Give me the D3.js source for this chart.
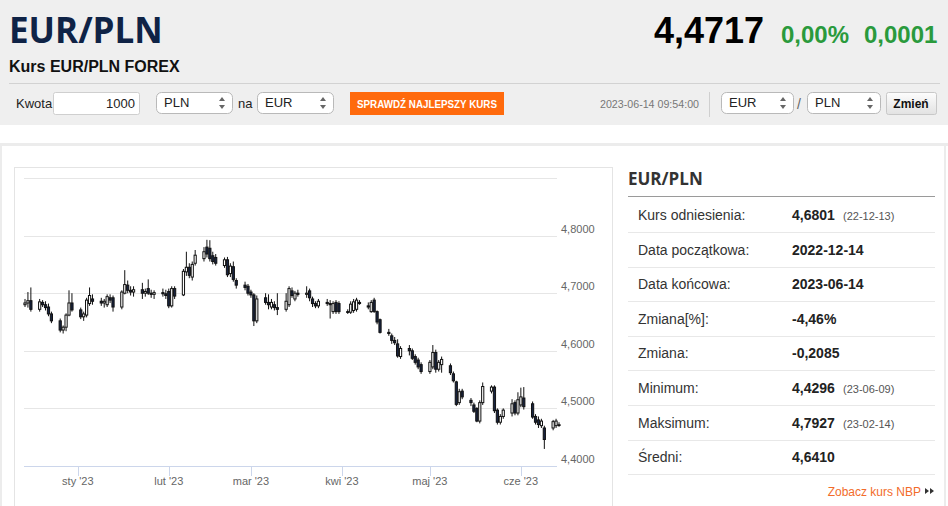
<!DOCTYPE html>
<html>
<head>
<meta charset="utf-8">
<script src="https://cdn.jsdelivr.net/npm/d3@7"></script>
<style>
body { margin: 0; background: #fff; font-family: Arial, "Liberation Sans", sans-serif; }
svg { display: block; }
</style>
</head>
<body>
<svg id="strona" width="948" height="506"></svg>
<script>
// EUR/PLN daily candles, 2022-12-14 .. 2023-06-14 (one value per weekday)
const startDate = new Date(2022, 11, 14);
const endDate = new Date(2023, 5, 14);

const open = [
	4.680, 4.683, 4.687,
	4.672, 4.684, 4.680, 4.676, 4.664,
	4.652, 4.636, 4.641, 4.662, 4.683,
	4.671, 4.659, 4.662, 4.682, 4.690,
	4.686, 4.683, 4.680, 4.692, 4.692,
	4.676, 4.700, 4.714, 4.705, 4.702,
	4.706, 4.700, 4.708, 4.700, 4.698,
	4.701, 4.699, 4.703, 4.678, 4.708,
	4.697, 4.737, 4.745, 4.728, 4.752,
	4.760, 4.780, 4.778, 4.765, 4.762,
	4.748, 4.758, 4.734, 4.746, 4.722,
	4.714, 4.712, 4.702, 4.697, 4.652,
	4.692, 4.684, 4.676, 4.680, 4.675,
	4.672, 4.680, 4.704, 4.690, 4.700,
	4.698, 4.704, 4.690, 4.682, 4.678,
	4.684, 4.682, 4.668, 4.684, 4.682,
	4.668, 4.667, 4.670, 4.672, 4.684,
	4.678, 4.668, 4.688, 4.668, 4.654,
	4.632, 4.626, 4.618, 4.612, 4.590,
	4.604, 4.600, 4.590, 4.584, 4.576,
	4.564, 4.572, 4.597, 4.568, 4.576,
	4.574, 4.560, 4.546, 4.510, 4.530,
	4.514, 4.506, 4.500, 4.478, 4.510,
	4.530, 4.537, 4.497, 4.476, 4.486,
	4.492, 4.510, 4.492, 4.506, 4.518,
	4.508, 4.486, 4.480, 4.470, 4.466,
	4.466, 4.470, 4.4716
];
const high = [
	4.690, 4.702, 4.710,
	4.690, 4.688, 4.686, 4.682, 4.668,
	4.656, 4.644, 4.665, 4.705, 4.700,
	4.675, 4.668, 4.692, 4.710, 4.698,
	4.692, 4.690, 4.698, 4.698, 4.696,
	4.705, 4.740, 4.722, 4.712, 4.712,
	4.718, 4.708, 4.724, 4.706, 4.705,
	4.708, 4.706, 4.708, 4.712, 4.712,
	4.742, 4.772, 4.752, 4.755, 4.775,
	4.780, 4.7927, 4.792, 4.772, 4.768,
	4.762, 4.763, 4.752, 4.755, 4.726,
	4.720, 4.716, 4.706, 4.700, 4.696,
	4.700, 4.698, 4.690, 4.686, 4.700,
	4.700, 4.712, 4.710, 4.704, 4.706,
	4.712, 4.708, 4.694, 4.686, 4.690,
	4.690, 4.688, 4.686, 4.688, 4.686,
	4.672, 4.686, 4.690, 4.692, 4.688,
	4.684, 4.688, 4.692, 4.670, 4.656,
	4.638, 4.630, 4.624, 4.620, 4.608,
	4.610, 4.604, 4.594, 4.588, 4.580,
	4.584, 4.610, 4.602, 4.584, 4.590,
	4.578, 4.564, 4.548, 4.534, 4.534,
	4.518, 4.510, 4.502, 4.514, 4.545,
	4.540, 4.540, 4.500, 4.490, 4.500,
	4.516, 4.514, 4.528, 4.536, 4.537,
	4.512, 4.490, 4.486, 4.482, 4.470,
	4.480, 4.482, 4.476
];
const low = [
	4.676, 4.675, 4.668,
	4.668, 4.676, 4.670, 4.660, 4.648,
	4.632, 4.630, 4.634, 4.660, 4.668,
	4.655, 4.652, 4.658, 4.678, 4.680,
	4.678, 4.675, 4.676, 4.683, 4.668,
	4.672, 4.698, 4.700, 4.696, 4.694,
	4.690, 4.694, 4.697, 4.692, 4.690,
	4.694, 4.690, 4.674, 4.675, 4.690,
	4.695, 4.730, 4.726, 4.722, 4.748,
	4.755, 4.762, 4.755, 4.750, 4.748,
	4.744, 4.728, 4.728, 4.720, 4.708,
	4.705, 4.696, 4.692, 4.643, 4.648,
	4.680, 4.672, 4.672, 4.670, 4.662,
	4.668, 4.676, 4.692, 4.686, 4.694,
	4.692, 4.686, 4.676, 4.674, 4.674,
	4.678, 4.656, 4.664, 4.664, 4.664,
	4.664, 4.664, 4.666, 4.668, 4.680,
	4.672, 4.666, 4.666, 4.646, 4.630,
	4.626, 4.612, 4.610, 4.588, 4.586,
	4.592, 4.584, 4.576, 4.568, 4.560,
	4.560, 4.568, 4.562, 4.564, 4.562,
	4.558, 4.545, 4.504, 4.506, 4.516,
	4.504, 4.492, 4.476, 4.474, 4.506,
	4.526, 4.492, 4.472, 4.472, 4.482,
	4.486, 4.488, 4.488, 4.502, 4.498,
	4.482, 4.472, 4.466, 4.466, 4.4296,
	4.462, 4.466, 4.468
];
const close = [
	4.683, 4.687, 4.672,
	4.685, 4.680, 4.675, 4.664, 4.652,
	4.636, 4.641, 4.662, 4.683, 4.671,
	4.659, 4.664, 4.688, 4.696, 4.686,
	4.683, 4.686, 4.694, 4.688, 4.676,
	4.702, 4.715, 4.705, 4.702, 4.706,
	4.700, 4.703, 4.700, 4.698, 4.701,
	4.699, 4.696, 4.678, 4.708, 4.695,
	4.738, 4.745, 4.731, 4.750, 4.766,
	4.772, 4.768, 4.760, 4.755, 4.752,
	4.758, 4.732, 4.747, 4.724, 4.714,
	4.710, 4.700, 4.697, 4.652, 4.690,
	4.684, 4.680, 4.684, 4.675, 4.672,
	4.686, 4.708, 4.696, 4.700, 4.698,
	4.700, 4.692, 4.682, 4.678, 4.686,
	4.682, 4.680, 4.682, 4.668, 4.668,
	4.667, 4.681, 4.685, 4.688, 4.682,
	4.676, 4.684, 4.668, 4.650, 4.632,
	4.630, 4.618, 4.614, 4.591, 4.604,
	4.600, 4.587, 4.580, 4.572, 4.564,
	4.580, 4.597, 4.568, 4.580, 4.585,
	4.562, 4.548, 4.507, 4.529, 4.520,
	4.510, 4.495, 4.478, 4.510, 4.538,
	4.537, 4.496, 4.476, 4.486, 4.497,
	4.508, 4.492, 4.515, 4.520, 4.503,
	4.485, 4.476, 4.472, 4.478, 4.446,
	4.477, 4.478, 4.4717
];

const yTicks = [4.4, 4.5, 4.6, 4.7, 4.8, 4.9];
const monthNames = ["sty", "lut", "mar", "kwi", "maj", "cze", "lip", "sie", "wrz", "paź", "lis", "gru"];

// table on the right
const rowLabels = ["Kurs odniesienia:", "Data początkowa:", "Data końcowa:", "Zmiana[%]:", "Zmiana:", "Minimum:", "Maksimum:", "Średni:"];
const rowValues = ["4,6801", "2022-12-14", "2023-06-14", "-4,46%", "-0,2085", "4,4296", "4,7927", "4,6410"];
const rowNotes = ["(22-12-13)", "", "", "", "", "(23-06-09)", "(23-02-14)", ""];

const svg = d3.select("#strona");

function draw_text(text, x, y, size, color, weight, anchor, family) {
	return svg.append("text")
		.text(text)
		.attr("x", x)
		.attr("y", y)
		.attr("fill", color || "#222")
		.attr("text-anchor", anchor || "start")
		.style("font-size", size)
		.style("font-weight", weight || "normal")
		.style("font-family", family || "Arial, 'Liberation Sans', sans-serif");
}

function draw_line(x1, y1, x2, y2, color) {
	svg.append("line")
		.attr("x1", x1).attr("y1", y1)
		.attr("x2", x2).attr("y2", y2)
		.attr("stroke", color)
		.attr("stroke-width", 1);
}

function draw_select(x, y, w, label) {
	svg.append("rect")
		.attr("x", x + 0.5).attr("y", y + 0.5)
		.attr("width", w).attr("height", 21)
		.attr("rx", 5)
		.attr("fill", "#fff")
		.attr("stroke", "#b9b9b9");
	draw_text(label, x + 8, y + 15, "13px", "#222");
	// up / down arrows
	const ax = x + w - 10;
	svg.append("path")
		.attr("d", `M${ax - 3},${y + 9}L${ax},${y + 5}L${ax + 3},${y + 9}Z M${ax - 3},${y + 13}L${ax},${y + 17}L${ax + 3},${y + 13}Z`)
		.attr("fill", "#666");
}

// ---- header ----
svg.append("rect").attr("x", 0).attr("y", 0).attr("width", 948).attr("height", 125).attr("fill", "#efefef");

draw_text("EUR/PLN", 9, 43, "35px", "#0f2346", "bold", "start", "'Open Sans', sans-serif");
draw_text("Kurs EUR/PLN FOREX", 9, 72, "16px", "#111", "bold");
draw_line(9, 83.5, 940, 83.5, "#d2d2d2");

draw_text("4,4717", 764, 43, "36px", "#000", "bold", "end");
draw_text("0,00%", 781, 43, "24px", "#2a9a3c", "bold");
draw_text("0,0001", 864, 43, "24px", "#2a9a3c", "bold");

// toolbar
draw_text("Kwota", 16, 108, "13px", "#222");
svg.append("rect")
	.attr("x", 53.5).attr("y", 92.5).attr("width", 86).attr("height", 22)
	.attr("rx", 2).attr("fill", "#fff").attr("stroke", "#cfcfcf");
draw_text("1000", 135, 108, "13px", "#222", "normal", "end");
draw_select(156, 92, 76, "PLN");
draw_text("na", 238, 108, "13px", "#222");
draw_select(257, 92, 76, "EUR");

svg.append("rect")
	.attr("x", 350).attr("y", 92).attr("width", 154).attr("height", 23)
	.attr("fill", "#ff6a0d");
draw_text("SPRAWDŹ NAJLEPSZY KURS", 427, 108, "10.5px", "#fff", "bold", "middle")
	.attr("textLength", 140).attr("lengthAdjust", "spacingAndGlyphs");

draw_text("2023-06-14 09:54:00", 600, 108, "10.5px", "#777")
	.attr("textLength", 99).attr("lengthAdjust", "spacingAndGlyphs");
draw_line(709.5, 92, 709.5, 117, "#cfcfcf");
draw_select(721, 92, 72, "EUR");
draw_text("/", 797, 109, "14px", "#666");
draw_select(807, 92, 73, "PLN");

const grad = svg.append("defs").append("linearGradient")
	.attr("id", "btn").attr("x1", 0).attr("y1", 0).attr("x2", 0).attr("y2", 1);
grad.append("stop").attr("offset", "0%").attr("stop-color", "#fdfdfd");
grad.append("stop").attr("offset", "100%").attr("stop-color", "#e2e2e2");
svg.append("rect")
	.attr("x", 886.5).attr("y", 92.5).attr("width", 50).attr("height", 22)
	.attr("rx", 2).attr("fill", "url(#btn)").attr("stroke", "#c8c8c8");
draw_text("Zmień", 911, 108, "12px", "#111", "bold", "middle");

// ---- panel frame ----
svg.append("rect").attr("x", 0).attr("y", 143).attr("width", 948).attr("height", 3).attr("fill", "#ececec");
svg.append("rect").attr("x", 0).attr("y", 143).attr("width", 2).attr("height", 363).attr("fill", "#ececec");
svg.append("rect").attr("x", 944).attr("y", 143).attr("width", 2).attr("height", 363).attr("fill", "#ececec");
svg.append("rect")
	.attr("x", 14.5).attr("y", 167.5).attr("width", 598).attr("height", 360)
	.attr("fill", "#fff").attr("stroke", "#e4e4e4");

// ---- candlestick chart ----
const days = d3.timeDays(startDate, d3.timeDay.offset(endDate, 1))
	.filter(d => d.getDay() !== 0 && d.getDay() !== 6);

const x = d3.scaleTime().domain([startDate, endDate]).range([25, 559]);
const y = d3.scaleLinear().domain([4.4, 4.9]).range([466, 178]);
const fmt = d3.format(".4f");

const plot = svg.append("g");

plot.selectAll("line.grid")
	.data(yTicks.filter(v => v > 4.4))
	.enter().append("line")
	.attr("class", "grid")
	.attr("x1", 24).attr("x2", 557)
	.attr("y1", d => Math.round(y(d)) + 0.5)
	.attr("y2", d => Math.round(y(d)) + 0.5)
	.attr("stroke", "#e6e6e6");

plot.selectAll("text.ylab")
	.data(yTicks.filter(v => v < 4.9))
	.enter().append("text")
	.attr("class", "ylab")
	.attr("x", 561)
	.attr("y", d => y(d) - 3)
	.attr("fill", "#666")
	.style("font-size", "11px")
	.text(d => fmt(d).replace(".", ","));

// x axis
const months = x.ticks(d3.timeMonth.every(1)).filter(d => d >= new Date(2023, 0, 1));
plot.append("line")
	.attr("x1", 24).attr("x2", 557)
	.attr("y1", 466.5).attr("y2", 466.5)
	.attr("stroke", "#ccd6eb");
plot.selectAll("line.tick")
	.data(months)
	.enter().append("line")
	.attr("class", "tick")
	.attr("x1", d => Math.round(x(d)) + 0.5).attr("x2", d => Math.round(x(d)) + 0.5)
	.attr("y1", 466).attr("y2", 476)
	.attr("stroke", "#ccd6eb");
plot.selectAll("text.xlab")
	.data(months)
	.enter().append("text")
	.attr("class", "xlab")
	.attr("x", d => x(d))
	.attr("y", 485)
	.attr("text-anchor", "middle")
	.attr("fill", "#666")
	.style("font-size", "11px")
	.text(d => monthNames[d.getMonth()] + " '" + String(d.getFullYear()).slice(2));

// candles
const candles = plot.selectAll("g.candle")
	.data(days)
	.enter().append("g")
	.attr("class", "candle");

candles.append("line")
	.attr("x1", d => x(d)).attr("x2", d => x(d))
	.attr("y1", (d, i) => y(high[i]))
	.attr("y2", (d, i) => y(low[i]))
	.attr("stroke", "#111")
	.attr("stroke-width", 1);

candles.append("rect")
	.attr("x", d => x(d) - 1.1)
	.attr("width", 2.2)
	.attr("y", (d, i) => y(Math.max(open[i], close[i])))
	.attr("height", (d, i) => Math.max(0.8, Math.abs(y(open[i]) - y(close[i]))))
	.attr("fill", (d, i) => close[i] >= open[i] ? "#fff" : "#172340")
	.attr("stroke", "#111")
	.attr("stroke-width", 1);

// ---- summary table ----
draw_text("EUR/PLN", 628, 185, "17px", "#333", "bold", "start", "'Open Sans', sans-serif");
draw_line(628, 196.5, 935, 196.5, "#9a9a9a");

const rowY = d3.scaleLinear().domain([0, 1]).range([215, 249.6]);
rowLabels.forEach(function (label, i) {
	const cy = rowY(i);
	draw_text(label, 638, cy + 5, "14px", "#333");
	draw_text(rowValues[i], 792, cy + 5, "14px", "#222", "bold");
	if (rowNotes[i]) draw_text(rowNotes[i], 843, cy + 5, "11px", "#555");
	draw_line(628, Math.round(cy + 17) + 0.5, 935, Math.round(cy + 17) + 0.5, "#e8e8e8");
});

draw_text("Zobacz kurs NBP", 921, 496, "12px", "#f26b2a", "normal", "end");
svg.append("path")
	.attr("d", "M925,488L929,491L925,494Z M930,488L934,491L930,494Z")
	.attr("fill", "#333");
</script>
</body>
</html>
